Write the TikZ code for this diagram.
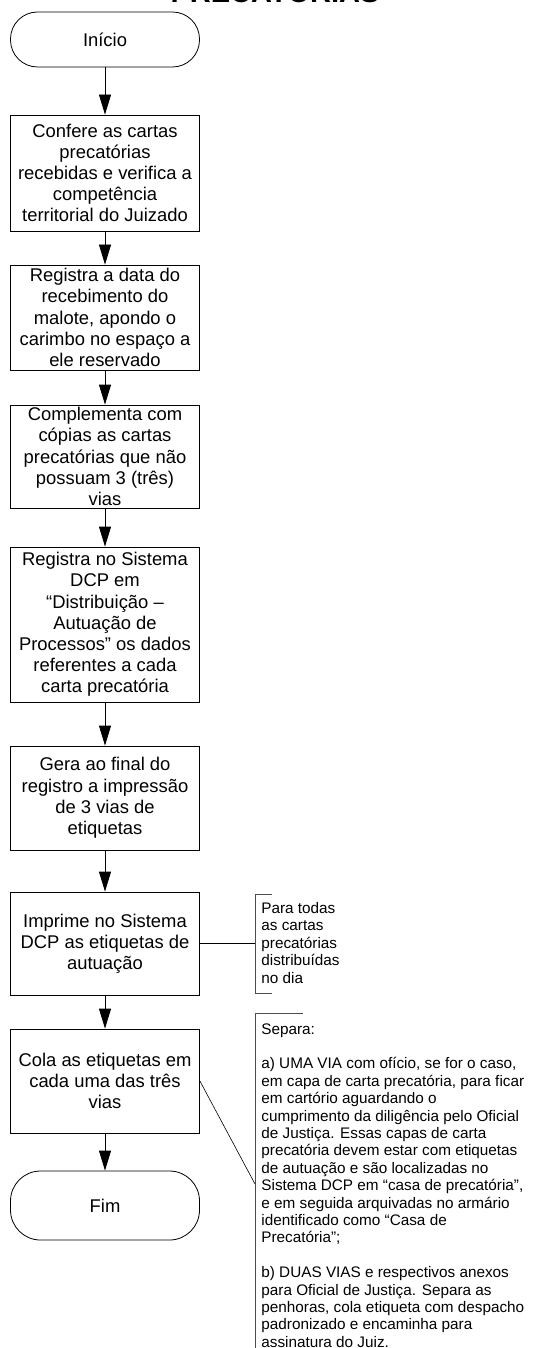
\documentclass[tikz,border=0pt]{standalone}
\usepackage{fontspec}
\setmainfont{Liberation Sans}
\usetikzlibrary{arrows.meta}

\newcommand{\boxfont}{\fontsize{18.4}{21.2}\selectfont}
\newcommand{\notefont}{\fontsize{15.3}{17.4}\selectfont}

\begin{document}
\begin{tikzpicture}[x=1pt, y=-1pt, line width=0.8pt,
    stepbox/.style={draw, minimum width=189pt, align=center, font=\boxfont, inner sep=2pt},
    term/.style={draw, rounded corners=27pt, minimum width=189pt, font=\boxfont},
    note/.style={anchor=north west, align=left, font=\notefont, inner sep=0pt},
    flow/.style={-{Triangle[length=20pt, width=12pt]}},
    bracket/.style={draw=black!70}]
    \useasboundingbox (0, 0) rectangle (538, 1348);

    % title, cut at the top edge
    \node[anchor=base, font=\bfseries\fontsize{29}{29}\selectfont, inner sep=0pt] (title) at (275, 3) {PRECATÓRIAS};

    % draw start and end
    \node[term, minimum height=55pt] (start) at (105, 39.5) {Início};
    \node[term, minimum height=69pt, rounded corners=30pt] (stop) at (105, 1205.5) {Fim};

    % draw steps
    \node[stepbox, minimum height=116pt] (s1) at (105, 173) {Confere as cartas\\precatórias\\recebidas e verifica a\\competência\\territorial do Juizado};
    \node[stepbox, minimum height=105pt] (s2) at (105, 317.5) {Registra a data do\\recebimento do\\malote, apondo o\\carimbo no espaço a\\ele reservado};
    \node[stepbox, minimum height=103pt] (s3) at (105, 456.5) {Complementa com\\cópias as cartas\\precatórias que não\\possuam 3 (três)\\vias};
    \node[stepbox, minimum height=155pt] (s4) at (105, 624.5) {Registra no Sistema\\DCP em\\“Distribuição –\\Autuação de\\Processos” os dados\\referentes a cada\\carta precatória};
    \node[stepbox, minimum height=104pt] (s5) at (105, 798) {Gera ao final do\\registro a impressão\\de 3 vias de\\etiquetas};
    \node[stepbox, minimum height=103pt] (s6) at (105, 943.5) {Imprime no Sistema\\DCP as etiquetas de\\autuação};
    \node[stepbox, minimum height=104pt] (s7) at (105, 1081) {Cola as etiquetas em\\cada uma das três\\vias};

    % draw arrows
    \draw[flow] (start) -- (s1);
    \draw[flow] (s1) -- (s2);
    \draw[flow] (s2) -- (s3);
    \draw[flow] (s3) -- (s4);
    \draw[flow] (s4) -- (s5);
    \draw[flow] (s5) -- (s6);
    \draw[flow] (s6) -- (s7);
    \draw[flow] (s7) -- (stop);

    % draw notes
    \node[note] (n1) at (261, 902) {Para todas\\as cartas\\precatórias\\distribuídas\\no dia};
    \node[note] (n2) at (261, 1023) {Separa:\\[17.4pt]a) UMA VIA com ofício, se for o caso,\\em capa de carta precatória, para ficar\\em cartório aguardando o\\cumprimento da diligência pelo Oficial\\de Justiça. Essas capas de carta\\precatória devem estar com etiquetas\\de autuação e são localizadas no\\Sistema DCP em “casa de precatória”,\\e em seguida arquivadas no armário\\identificado como “Casa de\\Precatória”;\\[17.4pt]b) DUAS VIAS e respectivos anexos\\para Oficial de Justiça. Separa as\\penhoras, cola etiqueta com despacho\\padronizado e encaminha para\\assinatura do Juiz.};

    % draw note brackets
    \draw[bracket] (272, 894) -- (255, 894) -- (255, 993) -- (272, 993);
    \draw[bracket] (303, 1013) -- (255, 1013) -- (255, 1355) -- (303, 1355);
    \coordinate (n1mid) at (255, 943.5);
    \coordinate (n2mid) at (255, 1184);

    % draw note connectors
    \draw (s6.east) -- (n1mid);
    \draw[line width=0.6pt] (s7.east) -- (n2mid);

\end{tikzpicture}
\end{document}
